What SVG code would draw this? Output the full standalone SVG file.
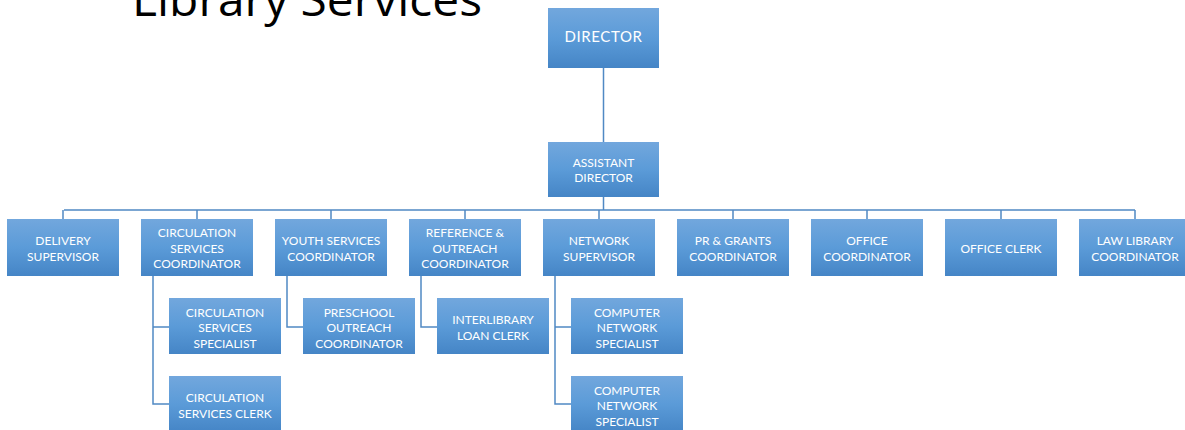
<svg xmlns="http://www.w3.org/2000/svg" width="1185" height="430" viewBox="0 0 1185 430">
<defs>
<linearGradient id="g" x1="0" y1="0" x2="0" y2="1">
<stop offset="0" stop-color="#72a7dd"/>
<stop offset="0.5" stop-color="#5b9bd8"/>
<stop offset="1" stop-color="#4585c6"/>
</linearGradient>
<style>
.b{fill:url(#g);}
.t{fill:#ffffff;font-family:Lato,"Liberation Sans",sans-serif;font-size:12px;text-anchor:middle;}
.c{fill:none;stroke:#5089c4;stroke-width:1.5;}
</style>
</defs>
<rect width="1185" height="430" fill="#ffffff"/>
<text x="132" y="16" font-family="'Open Sans','Liberation Sans',sans-serif" font-size="46" textLength="350" lengthAdjust="spacingAndGlyphs" fill="#000000">Library Services</text>
<g id="connectors">
<path class="c" d="M603.5 68V142M603.5 197V210M64 210H1135M63 210V219M197 210V219M331 210V219M465 210V219M599 210V219M733 210V219M867 210V219M1001 210V219M1135 210V219"/>
<path class="c" d="M153 276V404H169M153 327H169M287 276V327H303M421 276V327H437M555 276V404H571M555 327H571"/>
</g>
<g id="director"><rect class="b" x="548" y="8" width="111" height="60"/><text class="t" x="603.5" y="41.5" style="font-size:15px;letter-spacing:0.6px">DIRECTOR</text></g>
<g id="assistant-director"><rect class="b" x="548" y="142" width="111" height="55"/><text class="t" x="603.5" y="167">ASSISTANT</text><text class="t" x="603.5" y="182">DIRECTOR</text></g>
<g id="delivery-supervisor"><rect class="b" x="7" y="219" width="112" height="57"/><text class="t" x="63" y="245">DELIVERY</text><text class="t" x="63" y="261">SUPERVISOR</text></g>
<g id="circulation-services-coordinator"><rect class="b" x="141" y="219" width="112" height="57"/><text class="t" x="197" y="237">CIRCULATION</text><text class="t" x="197" y="253">SERVICES</text><text class="t" x="197" y="268">COORDINATOR</text></g>
<g id="youth-services-coordinator"><rect class="b" x="275" y="219" width="112" height="57"/><text class="t" x="331" y="245">YOUTH SERVICES</text><text class="t" x="331" y="261">COORDINATOR</text></g>
<g id="reference-outreach-coordinator"><rect class="b" x="409" y="219" width="112" height="57"/><text class="t" x="465" y="237">REFERENCE &amp;</text><text class="t" x="465" y="253">OUTREACH</text><text class="t" x="465" y="268">COORDINATOR</text></g>
<g id="network-supervisor"><rect class="b" x="543" y="219" width="112" height="57"/><text class="t" x="599" y="245">NETWORK</text><text class="t" x="599" y="261">SUPERVISOR</text></g>
<g id="pr-grants-coordinator"><rect class="b" x="677" y="219" width="112" height="57"/><text class="t" x="733" y="245">PR &amp; GRANTS</text><text class="t" x="733" y="261">COORDINATOR</text></g>
<g id="office-coordinator"><rect class="b" x="811" y="219" width="112" height="57"/><text class="t" x="867" y="245">OFFICE</text><text class="t" x="867" y="261">COORDINATOR</text></g>
<g id="office-clerk"><rect class="b" x="945" y="219" width="112" height="57"/><text class="t" x="1001" y="253">OFFICE CLERK</text></g>
<g id="law-library-coordinator"><rect class="b" x="1079" y="219" width="112" height="57"/><text class="t" x="1135" y="245">LAW LIBRARY</text><text class="t" x="1135" y="261">COORDINATOR</text></g>
<g id="circulation-services-specialist"><rect class="b" x="169" y="298" width="112" height="56"/><text class="t" x="225" y="317">CIRCULATION</text><text class="t" x="225" y="332">SERVICES</text><text class="t" x="225" y="348">SPECIALIST</text></g>
<g id="circulation-services-clerk"><rect class="b" x="169" y="376" width="112" height="56"/><text class="t" x="225" y="402">CIRCULATION</text><text class="t" x="225" y="418">SERVICES CLERK</text></g>
<g id="preschool-outreach-coordinator"><rect class="b" x="303" y="298" width="112" height="56"/><text class="t" x="359" y="317">PRESCHOOL</text><text class="t" x="359" y="332">OUTREACH</text><text class="t" x="359" y="348">COORDINATOR</text></g>
<g id="interlibrary-loan-clerk"><rect class="b" x="437" y="298" width="112" height="56"/><text class="t" x="493" y="324">INTERLIBRARY</text><text class="t" x="493" y="340">LOAN CLERK</text></g>
<g id="computer-network-specialist-1"><rect class="b" x="571" y="298" width="112" height="56"/><text class="t" x="627" y="317">COMPUTER</text><text class="t" x="627" y="332">NETWORK</text><text class="t" x="627" y="348">SPECIALIST</text></g>
<g id="computer-network-specialist-2"><rect class="b" x="571" y="376" width="112" height="56"/><text class="t" x="627" y="395">COMPUTER</text><text class="t" x="627" y="410">NETWORK</text><text class="t" x="627" y="426">SPECIALIST</text></g>
</svg>
